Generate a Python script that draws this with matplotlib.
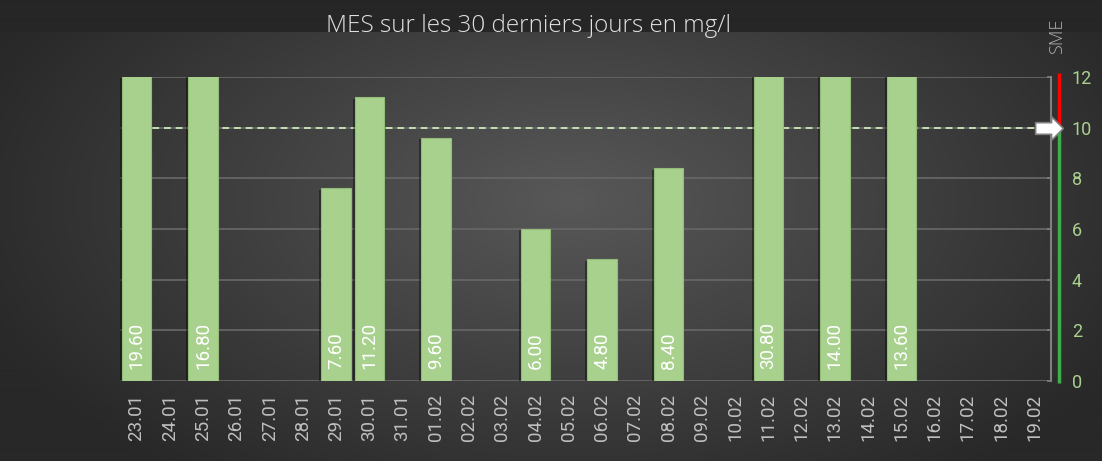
import numpy as np
import matplotlib
matplotlib.use("Agg")
import matplotlib.pyplot as plt
import matplotlib.patheffects as pe
from matplotlib.path import Path

# data
dates = ['23.01', '24.01', '25.01', '26.01', '27.01', '28.01', '29.01', '30.01', '31.01',
         '01.02', '02.02', '03.02', '04.02', '05.02', '06.02', '07.02', '08.02', '09.02',
         '10.02', '11.02', '12.02', '13.02', '14.02', '15.02', '16.02', '17.02', '18.02',
         '19.02']
mes = [19.6, None, 16.8, None, None, None, 7.6, 11.2, None,
       9.6, None, None, 6.0, None, 4.8, None, 8.4, None,
       None, 30.8, None, 14.0, None, 13.6, None, None, None,
       None]
sme = 10
ymax = 12
yticks = [0, 2, 4, 6, 8, 10, 12]

W, H = 1102, 461
fig = plt.figure(figsize=(W / 100, H / 100), dpi=100)
fig.patch.set_facecolor('#262626')

# background: dark strip on top, radial gradient below
bg = fig.add_axes([0, 0, 1, 1], zorder=-10)
yy, xx = np.mgrid[0:H, 0:W]
r = np.sqrt(((xx - 570) / 640.0) ** 2 + ((yy - 200) / 340.0) ** 2)
t = np.clip(1 - r, 0, 1) ** 1.0
dark, light = 0x28 / 255, 0x58 / 255
g = dark + (light - dark) * t
g[:33, :] = 0x26 / 255
bg.imshow(np.dstack([g, g, g]), aspect='auto', extent=[0, W, H, 0])
bg.set_axis_off()

ax = fig.add_axes([120 / W, 80 / H, 931 / W, 304 / H])
ax.set_facecolor('none')

x = np.arange(len(dates))
idx = [i for i, v in enumerate(mes) if v is not None]
vals = [mes[i] for i in idx]

for yv in yticks:
    ax.axhline(yv, color='#656565', lw=1.3, zorder=1)

ax.axhline(sme, xmin=0.01, xmax=0.985, color='#c5e0b4', lw=1.4,
           ls=(0, (3.5, 2.5)), zorder=2)

bars = ax.bar(idx, vals, width=0.88, color='#a9d18e', edgecolor='#93bc78',
              lw=0.8, zorder=3)
for b in bars:
    b.set_path_effects([pe.SimplePatchShadow(offset=(-1.5, -1), shadow_rgbFace='black', alpha=0.4),
                        pe.Normal()])

for i, v in zip(idx, vals):
    ax.annotate(f'{v:.2f}', xy=(i, 0), xytext=(0, 9), textcoords='offset points',
                rotation=90, ha='center', va='bottom', color='white',
                fontsize=13.5, family='Roboto', zorder=5)

ax.set_xlim(-0.5, len(dates) - 0.5)
ax.set_ylim(0, ymax)
ax.set_xticks(x)
ax.set_xticklabels(dates, rotation=90, color='#bfbfbf', fontsize=13.5, family='Roboto')
ax.tick_params(axis='x', length=0, pad=9)

ax.yaxis.tick_right()
ax.set_yticks(yticks)
ax.set_yticklabels([str(v) for v in yticks], color='#a9d18e', fontsize=13, family='Roboto')
ax.tick_params(axis='y', direction='in', length=3, color='#808080', width=1.2, pad=15)

for s in ['top', 'left', 'bottom']:
    ax.spines[s].set_visible(False)
ax.spines['right'].set_color('#808080')
ax.spines['right'].set_linewidth(1.5)

# coloured threshold axis
tr = ax.get_yaxis_transform()
ax.plot([1.0087, 1.0087], [sme, ymax + 0.15], color='#ff0000', lw=2.5, transform=tr,
        clip_on=False, solid_capstyle='butt', zorder=6)
ax.plot([1.0087, 1.0087], [-0.08, sme], color='#3fae49', lw=2.5, transform=tr,
        clip_on=False, solid_capstyle='butt', zorder=6)

# arrow marker at threshold
verts = [(-1, -0.42), (0.15, -0.42), (0.15, -0.85), (1, 0), (0.15, 0.85),
         (0.15, 0.42), (-1, 0.42), (-1, -0.42)]
arrow = Path(verts, [Path.MOVETO] + [Path.LINETO] * 6 + [Path.CLOSEPOLY])
ax.plot([0.9975], [sme], marker=arrow, markersize=20, color='white',
        markeredgecolor='#7f7f7f', markeredgewidth=1.2, transform=tr,
        clip_on=False, zorder=7)

fig.text(528 / W, (H - 32) / H, 'MES sur les 30 derniers jours en mg/l', ha='center',
         va='baseline', color='#e0e0e0', fontsize=17.5, family='Open Sans', fontweight='light')
fig.text(1057 / W, (H - 36) / H, 'SME', ha='center', va='center', rotation=90,
         color='#b0b0b0', fontsize=13, family='Open Sans', fontweight='light')

fig.savefig('out.png', dpi=100, facecolor=fig.get_facecolor())
